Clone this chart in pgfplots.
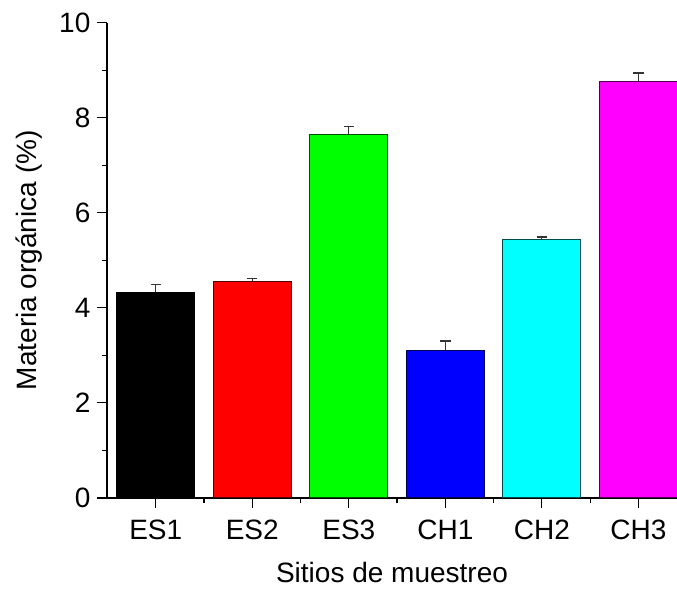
\documentclass[border=0pt]{standalone}
\usepackage{pgfplots}
\pgfplotsset{compat=1.18}
\usepackage{fontspec}
\setmainfont{Liberation Sans}
\definecolor{cCyan}{RGB}{0,255,255}
\definecolor{cMag}{RGB}{255,0,255}
\definecolor{cRed}{RGB}{255,0,0}
\definecolor{cGreen}{RGB}{0,255,0}
\definecolor{cBlue}{RGB}{0,0,255}
\begin{document}
\begin{tikzpicture}
\begin{axis}[
  scale only axis,
  width=285pt, height=237.6pt,
  xmin=-0.505, xmax=5.4,
  ymin=0, ymax=10,
  axis x line*=bottom, axis y line*=left,
  axis line style={-, line width=0.6pt},
  tick align=outside,
  xtick={0,1,2,3,4,5},
  xticklabels={ES1,ES2,ES3,CH1,CH2,CH3},
  minor xtick={0.5,1.5,2.5,3.5,4.5},
  ytick={0,2,4,6,8,10},
  minor ytick={1,3,5,7,9},
  major tick length=4.8pt,
  minor tick length=2.6pt,
  every tick/.style={black, line width=0.6pt},
  tick label style={font=\fontsize{14}{16}\selectfont},
  /pgf/number format/assume math mode=true,
  xticklabel style={yshift=-2.8pt},
  xlabel={Sitios de muestreo},
  ylabel={Materia orgánica (\%)},
  label style={font=\fontsize{14}{16}\selectfont},
  xlabel style={yshift=-4.3pt},
  ylabel style={yshift=1.5pt},
  ybar, bar width=0.81, bar shift=0pt,
  error bars/y dir=plus, error bars/y explicit,
  error bars/error bar style={line width=0.6pt, black!80},
  error bars/error mark options={rotate=90, mark size=2.6pt, line width=0.6pt, black!80},
  clip=false,
]
\addplot[fill=black, draw=black, line width=0.5pt] coordinates {(0,4.33) +- (0,0.16)};
\addplot[fill=cRed, draw=black!70!cRed, line width=0.5pt] coordinates {(1,4.56) +- (0,0.05)};
\addplot[fill=cGreen, draw=black!70!cGreen, line width=0.5pt] coordinates {(2,7.65) +- (0,0.16)};
\addplot[fill=cBlue, draw=black!70!cBlue, line width=0.5pt] coordinates {(3,3.11) +- (0,0.19)};
\addplot[fill=cCyan, draw=black!70!cCyan, line width=0.5pt] coordinates {(4,5.44) +- (0,0.05)};
\addplot[fill=cMag, draw=black!70!cMag, line width=0.5pt] coordinates {(5,8.77) +- (0,0.17)};
\coordinate (ll) at (rel axis cs:0,0);
\coordinate (ur) at (rel axis cs:1,1);
\end{axis}
\pgfresetboundingbox
\path ([xshift=-53.5pt,yshift=-45.5pt]ll) rectangle ([yshift=11.35pt]ur);
\end{tikzpicture}
\end{document}
